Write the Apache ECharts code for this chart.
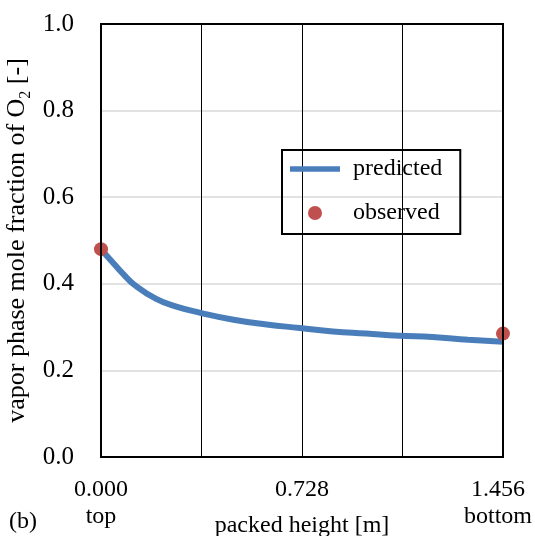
<!DOCTYPE html>
<html>
<head>
<meta charset="utf-8">
<script src="https://cdn.jsdelivr.net/npm/echarts@6/dist/echarts.min.js"></script>
<style>html,body{margin:0;padding:0;background:#fff}#c{width:535px;height:536px}</style>
</head>
<body>
<div id="c"></div>
<script>
// packed height [m] and predicted vapor O2 mole fraction
const heights = [0, 0.05, 0.08, 0.12, 0.2, 0.27, 0.36, 0.48, 0.6, 0.72, 0.84, 0.96, 1.08, 1.2, 1.33, 1.456];
const predicted = [0.48, 0.444, 0.423, 0.398, 0.365, 0.348, 0.333, 0.317, 0.306, 0.298, 0.29, 0.285, 0.28, 0.277, 0.271, 0.266];
// observed points
const obsHeights = [0, 1.456];
const observed = [0.48, 0.285];
// tick labels
const xTickLabels = ['{a|0.000}\n{a|top}', '', '{a|0.728}', '', '{b|1.456}\n{b|bottom}'];
const yTickLabels = ['0.0', '0.2', '0.4', '0.6', '0.8', '1.0'];

const FONT = '"Liberation Serif", "Times New Roman", serif';
const chart = echarts.init(document.getElementById('c'));
chart.setOption({
  backgroundColor: '#fff',
  animation: false,
  textStyle: { fontFamily: FONT, color: '#000' },
  grid: { left: 101, right: 32, top: 24, bottom: 79, show: true, borderColor: '#000', borderWidth: 2, z: 10,
          containLabel: false, outerBoundsMode: 'none' },
  xAxis: {
    type: 'value', min: 0, max: 1.456, interval: 0.364,
    axisLine: { show: true, onZero: false, lineStyle: { color: '#000', width: 2 } },
    axisTick: { show: false },
    splitLine: { show: true, lineStyle: { color: '#000', width: 1 } },
    axisLabel: {
      show: true, showMaxLabel: true, showMinLabel: true,
      fontFamily: FONT, fontSize: 24, color: '#000', lineHeight: 27, margin: 19,
      rich: {
        a: { fontFamily: FONT, fontSize: 24, color: '#000', lineHeight: 27 },
        b: { fontFamily: FONT, fontSize: 24, color: '#000', lineHeight: 27, padding: [0, 10, 0, 0] }
      },
      formatter: v => xTickLabels[Math.round(v / 0.364)] || ''
    },
    name: 'packed height [m]', nameLocation: 'middle', nameGap: 57, nameMoveOverlap: false,
    nameTextStyle: { fontFamily: FONT, fontSize: 24, color: '#000' }
  },
  yAxis: {
    type: 'value', min: 0, max: 1, interval: 0.2,
    axisLine: { show: true, lineStyle: { color: '#000', width: 2 } },
    axisTick: { show: false },
    splitLine: { show: true, lineStyle: { color: '#d9d9d9', width: 1.5 } },
    axisLabel: {
      fontFamily: FONT, fontSize: 25, color: '#000', margin: 27,
      formatter: v => yTickLabels[Math.round(v / 0.2)]
    },
    name: 'vapor phase mole fraction of O{sub|2} [-]', nameLocation: 'middle', nameGap: 67, nameMoveOverlap: false,
    nameTextStyle: {
      fontFamily: FONT, fontSize: 26, color: '#000',
      rich: { sub: { fontFamily: FONT, fontSize: 16, color: '#000', verticalAlign: 'bottom', lineHeight: 34 } }
    }
  },
  legend: {
    orient: 'vertical', left: 282, top: 150,
    padding: [7, 18, 9, 8], itemGap: 20,
    borderColor: '#000', borderWidth: 2,
    itemWidth: 50, itemHeight: 14,
    textStyle: { fontFamily: FONT, fontSize: 24, color: '#000', padding: [0, 0, 0, 8] },
    data: [
      { name: 'predicted', icon: 'path://M0,0L50,0L50,5.5L0,5.5Z', itemStyle: { color: '#4a7ebb' } },
      { name: 'observed', icon: 'circle', itemStyle: { color: '#c0504d' } }
    ]
  },
  graphic: [
    { type: 'text', left: 9, top: 510, style: { text: '(b)', font: '24px ' + FONT, fill: '#000' } }
  ],
  series: [
    {
      name: 'predicted', type: 'line', smooth: true, symbol: 'none',
      data: heights.map((h, i) => [h, predicted[i]]),
      lineStyle: { color: '#4a7ebb', width: 6 }, itemStyle: { color: '#4a7ebb' }, z: 3
    },
    {
      name: 'observed', type: 'scatter', symbol: 'circle', symbolSize: 14,
      data: obsHeights.map((h, i) => [h, observed[i]]),
      itemStyle: { color: '#c0504d', opacity: 1 }, z: 4
    }
  ]
});
</script>
</body>
</html>
